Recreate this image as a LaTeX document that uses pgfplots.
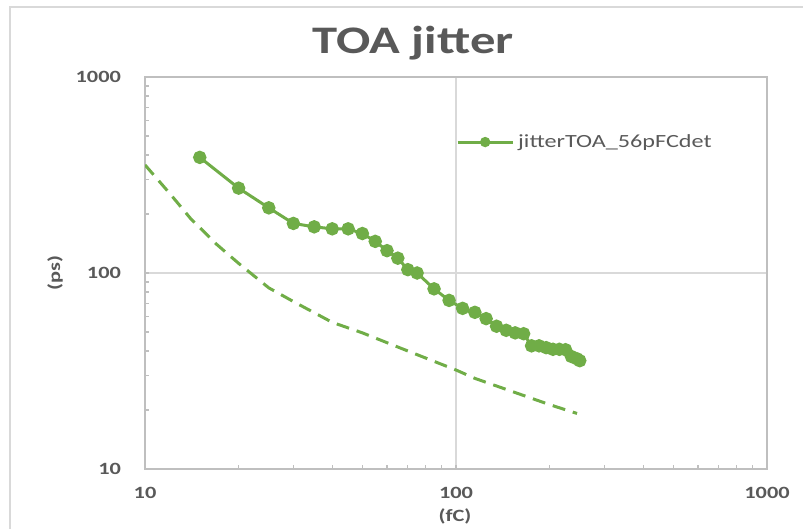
\documentclass[border=0pt]{standalone}
\usepackage{fontspec}
\setmainfont{Carlito}[FakeStretch=1.3]
\usepackage{pgfplots}
\pgfplotsset{compat=1.18}
\definecolor{exgreen}{HTML}{70AD47}
\definecolor{txtgray}{HTML}{595959}
\definecolor{gridgray}{HTML}{D9D9D9}
\definecolor{axgray}{HTML}{BFBFBF}
\begin{document}
\begin{tikzpicture}
\useasboundingbox (0,0) rectangle (401.5pt,264.5pt);
\draw[gridgray, line width=0.6pt] (5pt,0) -- (5pt,261pt) -- (401.5pt,261pt);
\node[txtgray, font=\fontsize{19.5}{23}\selectfont\bfseries] at (206.5pt,243pt) {TOA jitter};
\node[txtgray, font=\fontsize{8.6}{10}\selectfont\bfseries] at (227.5pt,6.5pt) {(fC)};
\node[txtgray, rotate=90, font=\fontsize{8.6}{10}\selectfont\bfseries] at (27.5pt,128pt) {(ps)};
\begin{axis}[
  at={(72.5pt,30pt)}, anchor=south west,
  scale only axis, width=311pt, height=196pt,
  xmode=log, ymode=log,
  xmin=10, xmax=1000, ymin=10, ymax=1000,
  xtick={10,100,1000}, ytick={10,100,1000},
  xticklabels={10,100,1000}, yticklabels={10,100,1000},
  grid=major, major grid style={gridgray, line width=0.6pt},
  axis line style={axgray, line width=0.6pt},
  tick pos=left, tick align=inside,
  major tick length=0pt, minor tick length=2.2pt,
  every tick/.style={axgray, line width=0.6pt},
  /pgf/number format/assume math mode=true,
  ticklabel style={txtgray, font=\fontsize{8.6}{10}\selectfont\bfseries},
  yticklabel style={xshift=-8.5pt},
  xticklabel style={yshift=-5.5pt},
  legend style={draw=none, fill=none, at={(0.49,0.834)}, anchor=west,
    font=\fontsize{9.3}{11}\selectfont, text=txtgray,
    /tikz/every even column/.append style={column sep=2pt}},
  legend image code/.code={\draw[mark repeat=2,mark phase=2,#1,mark size=1.8pt] plot coordinates {(0pt,0pt)(13.75pt,0pt)(27.5pt,0pt)};},
]
\addplot[exgreen, line width=1.5pt, mark=*, mark size=2.6pt, mark options={solid, fill=exgreen}] coordinates {
(15,389) (20,271) (25,215) (30,179) (35,172) (40,168) (45,168) (50,159)
(55,145) (60,130) (65,119) (70,104) (75,100) (85,83) (95,72.5) (105,66)
(115,63) (125,58.5) (135,53.5) (145,51) (155,49.5) (165,49) (175,42.5)
(185,42.5) (195,41.6) (205,40.8) (215,40.8) (225,40.6) (235,37.5) (245,36.5) (250,35.7)
};
\addlegendentry{jitterTOA\_56pFCdet}
\addplot[exgreen, line width=1.5pt, dash pattern=on 6.5pt off 4pt, forget plot] coordinates {
(10,356) (12,255) (14,190) (17,140) (20,112) (25,84) (30,71.5) (40,56)
(50,49.5) (70,40) (100,32) (115,29) (150,25) (200,21.3) (245,19.2)
};
\end{axis}
\end{tikzpicture}
\end{document}
